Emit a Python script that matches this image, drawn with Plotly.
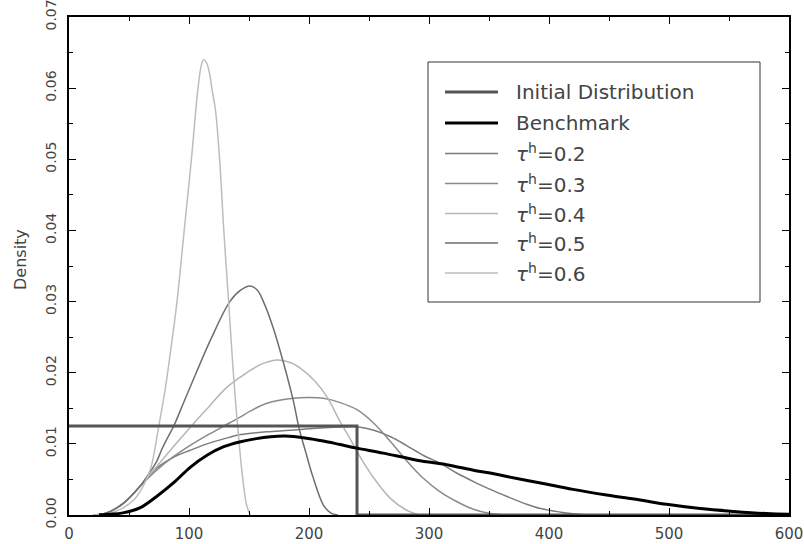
import plotly.graph_objects as go

# ---- data ----
init_x = [0, 240, 240, 600]
init_y = [0.0125, 0.0125, 0.0, 0.0]

bench_x = [25, 34, 45, 59, 73, 87, 101, 115, 129, 143, 155, 168, 180, 198, 212, 226, 240,
           262, 290, 317, 337, 351, 365, 393, 420, 448, 476, 498, 526, 554, 581, 600]
bench_y = [0, 0.0001, 0.0003, 0.0010, 0.0026, 0.0045, 0.0067, 0.0084, 0.0096, 0.0103, 0.0107,
           0.0110, 0.0111, 0.0108, 0.0104, 0.0099, 0.0094, 0.0087, 0.0077, 0.0070, 0.0063,
           0.0059, 0.0054, 0.0045, 0.0036, 0.0028, 0.0021, 0.0015, 0.0009, 0.0005, 0.0002, 0.0001]

t02_x = [20, 30, 45, 59, 73, 87, 101, 115, 129, 143, 165, 184, 206, 234, 240, 254, 268, 281,
         295, 309, 323, 337, 351, 365, 380, 393, 410, 425, 440]
t02_y = [0, 0.0002, 0.0016, 0.0040, 0.0066, 0.0081, 0.0091, 0.0100, 0.0107, 0.0113, 0.0117,
         0.0119, 0.0122, 0.0124, 0.0124, 0.0119, 0.0110, 0.0098, 0.0084, 0.0073, 0.0059,
         0.0047, 0.0036, 0.0026, 0.0016, 0.0009, 0.0004, 0.0001, 0]

t03_x = [20, 30, 45, 59, 73, 87, 101, 115, 129, 143, 151, 165, 187, 200, 212, 226, 240, 254,
         268, 281, 295, 309, 323, 337, 351, 365]
t03_y = [0, 0.0002, 0.0016, 0.0040, 0.0063, 0.0082, 0.0098, 0.0112, 0.0125, 0.0138, 0.0146,
         0.0157, 0.0164, 0.0165, 0.0164, 0.0158, 0.0148, 0.0129, 0.0103, 0.0077, 0.0052,
         0.0033, 0.0019, 0.0008, 0.0002, 0]

t04_x = [20, 30, 45, 59, 73, 87, 103, 117, 130, 143, 159, 173, 185, 193, 205, 215, 226, 235,
         240, 254, 268, 281, 292]
t04_y = [0, 0.0002, 0.0016, 0.0040, 0.0068, 0.0096, 0.0127, 0.0153, 0.0177, 0.0194, 0.0211,
         0.0218, 0.0214, 0.0206, 0.0188, 0.0166, 0.0131, 0.0105, 0.0089, 0.0052, 0.0023,
         0.0007, 0]

t05_x = [20, 30, 45, 59, 67, 73, 77, 81, 87, 96, 106, 119, 134, 143, 151, 157, 162, 170, 181,
         187, 192, 197, 203, 212, 218, 224]
t05_y = [0, 0.0002, 0.0016, 0.0040, 0.0059, 0.0075, 0.0091, 0.0105, 0.0124, 0.0160, 0.0200,
         0.0250, 0.0300, 0.0316, 0.0322, 0.0316, 0.0300, 0.0264, 0.0200, 0.0160, 0.0120,
         0.0090, 0.0055, 0.0014, 0.0003, 0]

t06_x = [20, 35, 45, 54, 61, 68, 74.5, 80, 85, 90, 96, 102, 107.5, 110, 112,
         114.5, 117, 119, 122, 125.5, 129, 133, 136.5, 139.5, 142.5, 145, 148, 151]
t06_y = [0, 0.0003, 0.0010, 0.0021, 0.0038, 0.0065, 0.0122, 0.0175, 0.0235, 0.0300, 0.0400,
         0.0500, 0.0600, 0.0630, 0.0640, 0.0636, 0.0622, 0.0600, 0.0570, 0.0500, 0.0400,
         0.0300, 0.0210, 0.0145, 0.0088, 0.0048, 0.0014, 0]

names = ["Initial Distribution", "Benchmark",
         "<i>τ</i><sup>h</sup>=0.2", "<i>τ</i><sup>h</sup>=0.3", "<i>τ</i><sup>h</sup>=0.4",
         "<i>τ</i><sup>h</sup>=0.5", "<i>τ</i><sup>h</sup>=0.6"]
xs = [init_x, bench_x, t02_x, t03_x, t04_x, t05_x, t06_x]
ys = [init_y, bench_y, t02_y, t03_y, t04_y, t05_y, t06_y]
colors = ["#555555", "#000000", "#7c7c7c", "#8a8a8a", "#b6b6b6", "#6e6e6e", "#bdbdbd"]
widths = [3, 3, 1.5, 1.5, 1.5, 1.5, 1.5]

x_ticks = [0, 100, 200, 300, 400, 500, 600]
y_ticks = [0.00, 0.01, 0.02, 0.03, 0.04, 0.05, 0.06, 0.07]

fig = go.Figure()
draw_order = [2, 3, 4, 5, 6, 0, 1]
for i in draw_order:
    shape = "linear" if i == 0 else "spline"
    fig.add_trace(go.Scatter(x=xs[i], y=ys[i], mode="lines", name=names[i],
                             line=dict(color=colors[i], width=widths[i], shape=shape),
                             showlegend=False, hoverinfo="skip"))

FONT = "DejaVu Sans"
fig.update_layout(
    width=804, height=544,
    margin=dict(l=69, r=15, t=17, b=29, autoexpand=False),
    paper_bgcolor="white", plot_bgcolor="white",
    font=dict(family=FONT, color="#444444"),
    showlegend=False,
)
fig.update_xaxes(range=[0, 600], tickvals=x_ticks, ticktext=[str(v) for v in x_ticks],
                 automargin=False, ticklabeloverflow="allow",
                 showgrid=False, zeroline=False, showline=True, linecolor="black", linewidth=2,
                 mirror="allticks", ticks="inside", ticklen=7, tickwidth=1, tickcolor="black",
                 minor=dict(dtick=50, ticks="inside", ticklen=4, tickcolor="black"),
                 tickfont=dict(size=15, color="#444444"), ticklabelstandoff=4)
fig.update_yaxes(range=[0, 0.07], tickvals=y_ticks, ticktext=[f"{v:.2f}" for v in y_ticks],
                 automargin=False, ticklabeloverflow="allow",
                 showgrid=False, zeroline=False, showline=True, linecolor="black", linewidth=2,
                 mirror="allticks", ticks="inside", ticklen=7, tickwidth=1, tickcolor="black",
                 minor=dict(dtick=0.005, ticks="inside", ticklen=4, tickcolor="black"),
                 tickangle=-90, tickfont=dict(size=14, color="#444444"), ticklabelstandoff=5)

PW, PH = 720.0, 498.0
def px_x(px):
    return (px - 69) / PW
def px_y(py):
    return (515 - py) / PH

ann = [dict(text="Density", xref="paper", yref="paper", x=px_x(20), y=px_y(260),
            textangle=-90, showarrow=False, font=dict(size=16, color="#444444"),
            xanchor="center", yanchor="middle")]
shapes = [dict(type="rect", xref="paper", yref="paper", x0=px_x(428), x1=px_x(760),
               y0=px_y(302), y1=px_y(62), line=dict(color="#333333", width=1),
               fillcolor="white", layer="above")]
row_y = [92, 123, 153.5, 183.5, 213.5, 243, 273]
for i in range(len(names)):
    shapes.append(dict(type="line", xref="paper", yref="paper", x0=px_x(445), x1=px_x(498),
                       y0=px_y(row_y[i]), y1=px_y(row_y[i]),
                       line=dict(color=colors[i], width=widths[i]), layer="above"))
    ann.append(dict(text=names[i], xref="paper", yref="paper", x=px_x(514), y=px_y(row_y[i]),
                    showarrow=False, xanchor="left", yanchor="middle",
                    font=dict(size=20, color="#444444")))
fig.update_layout(shapes=shapes, annotations=ann)

fig.write_html("out.html")
